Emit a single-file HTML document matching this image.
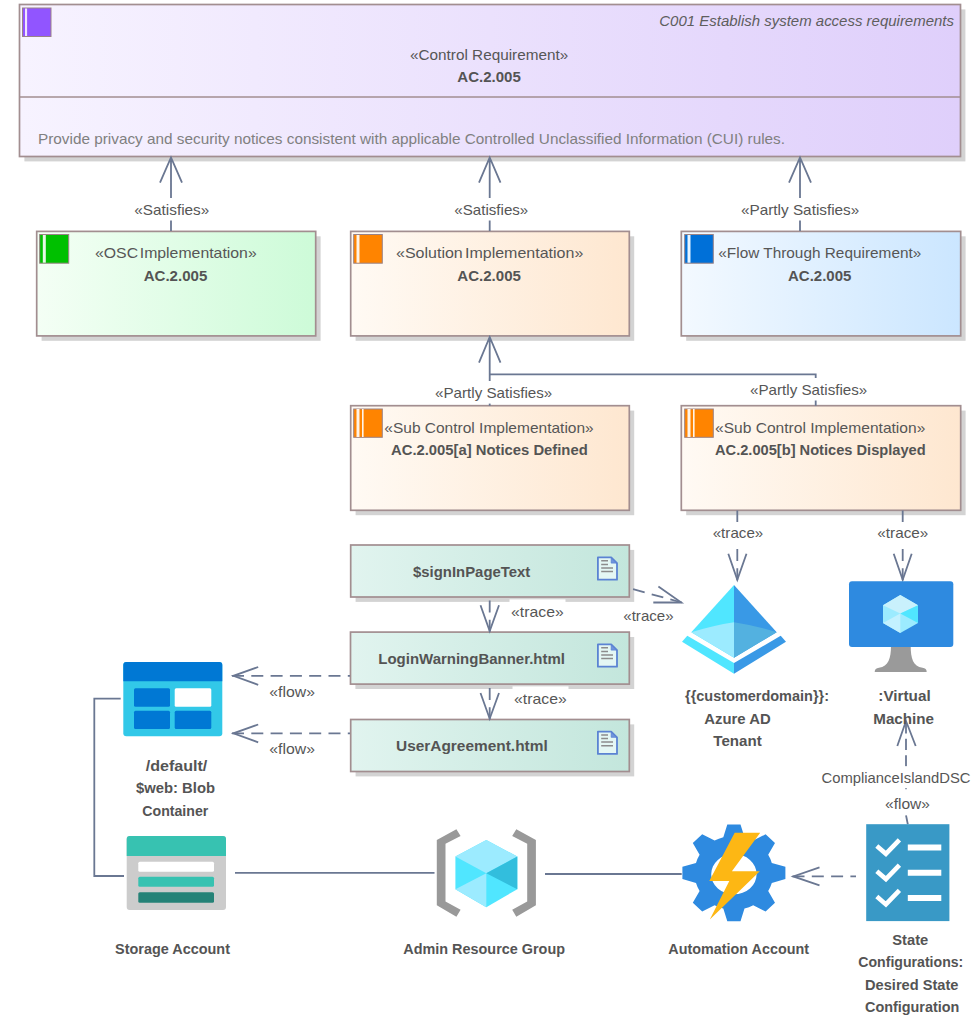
<!DOCTYPE html>
<html lang="en">
<head>
<meta charset="utf-8">
<title>AC.2.005 Control Requirement Diagram</title>
<style>
html,body{margin:0;padding:0;background:#fff;}
body{width:975px;height:1024px;overflow:hidden;}
svg{display:block;}
text{font-family:"Liberation Sans",sans-serif;font-size:14.4px;fill:#565656;}
.b{font-weight:bold;fill:#545454;}
.lbl{fill:#565656;}
.ln{stroke:#6a7792;stroke-width:1.8;fill:none;}
.dash{stroke-dasharray:12 7.3;}
.box{stroke:#a28e90;stroke-width:1.7;}
.sh{fill:#d3d3d3;}
</style>
</head>
<body>
<svg width="975" height="1024" viewBox="0 0 975 1024">
<defs>
<linearGradient id="gp" x1="0" x2="1" y1="0" y2="0"><stop offset="0" stop-color="#f7f3ff"/><stop offset="1" stop-color="#dfcffb"/></linearGradient>
<linearGradient id="gg" x1="0" x2="1" y1="0" y2="0"><stop offset="0" stop-color="#f4fff5"/><stop offset="1" stop-color="#cdfbd8"/></linearGradient>
<linearGradient id="go" x1="0" x2="1" y1="0" y2="0"><stop offset="0" stop-color="#fffaf4"/><stop offset="1" stop-color="#fee7d0"/></linearGradient>
<linearGradient id="gb" x1="0" x2="1" y1="0" y2="0"><stop offset="0" stop-color="#f3f9ff"/><stop offset="1" stop-color="#cbe6ff"/></linearGradient>
<linearGradient id="gt" x1="0" x2="1" y1="0" y2="0"><stop offset="0" stop-color="#e1f4ef"/><stop offset="1" stop-color="#c3e6dc"/></linearGradient>
<g id="doc">
<path d="M0.9 0.9 H14.2 L20 6.6 V23.2 H0.9 Z" fill="#e4f7f4" stroke="#5b83d3" stroke-width="1.8" stroke-linejoin="round"/>
<path d="M14.2 1.5 V6.6 H19.5 Z" fill="#6f94dc" stroke="#5b83d3" stroke-width="0.8"/>
<path d="M4.2 4.3 H11 M4.2 7.9 H11 M4.2 11.4 H16 M4.2 15 H16" stroke="#8c8c8c" stroke-width="1.5" fill="none"/>
</g>
</defs>
<rect width="975" height="1024" fill="#fff"/>


<!-- ===== boxes ===== -->
<g id="boxes">
<!-- Control Requirement -->
<rect class="sh" x="24.4" y="9.4" width="941.0" height="152.0"/>
<rect class="box" x="19.5" y="4.5" width="941" height="152" fill="url(#gp)"/>
<line class="box" x1="19.5" y1="97" x2="960.5" y2="97"/>
<rect x="22.5" y="8" width="28.5" height="28.5" fill="#9155ff" stroke="#9a8387" stroke-width="1"/>
<rect x="25" y="8.5" width="2.1" height="27.5" fill="#eee4ff"/>
<text x="954" y="26" text-anchor="end" font-style="italic" textLength="294.7" lengthAdjust="spacingAndGlyphs" style="fill:#5e5e5e">C001 Establish system access requirements</text>
<text x="410" y="59.8" textLength="158.3" lengthAdjust="spacingAndGlyphs">«Control Requirement»</text>
<text class="b" x="457.3" y="81.7" textLength="63.5" lengthAdjust="spacingAndGlyphs">AC.2.005</text>
<text x="38" y="143.8" textLength="747" lengthAdjust="spacingAndGlyphs" style="fill:#808080">Provide privacy and security notices consistent with applicable Controlled Unclassified Information (CUI) rules.</text>

<!-- OSC Implementation -->
<rect class="sh" x="41.6" y="236.3" width="279.0" height="104.5"/>
<rect class="box" x="36.7" y="231.4" width="279" height="104.5" fill="url(#gg)"/>
<rect x="39.7" y="234.5" width="29" height="28.7" fill="#00c000" stroke="#9a8387" stroke-width="1"/>
<rect x="42.8" y="235" width="3" height="27.7" fill="#e6f8e6"/>
<text x="95" y="258.2" textLength="161.7" lengthAdjust="spacingAndGlyphs" word-spacing="-2.5">«OSC Implementation»</text>
<text class="b" x="143.7" y="281" textLength="63.6" lengthAdjust="spacingAndGlyphs">AC.2.005</text>

<!-- Solution Implementation -->
<rect class="sh" x="355.6" y="236.3" width="278.6" height="104.5"/>
<rect class="box" x="350.7" y="231.4" width="278.6" height="104.5" fill="url(#go)"/>
<rect x="353.7" y="234.5" width="28.6" height="28.7" fill="#ff8400" stroke="#9a8387" stroke-width="1"/>
<rect x="356.5" y="235" width="3" height="27.7" fill="#fff4e8"/>
<text x="396" y="258.2" textLength="187.3" lengthAdjust="spacingAndGlyphs" word-spacing="-2">«Solution Implementation»</text>
<text class="b" x="457.3" y="281" textLength="63.6" lengthAdjust="spacingAndGlyphs">AC.2.005</text>

<!-- Flow Through Requirement -->
<rect class="sh" x="686.2" y="236.3" width="279.4" height="104.5"/>
<rect class="box" x="681.3" y="231.4" width="279.4" height="104.5" fill="url(#gb)"/>
<rect x="684.7" y="234.5" width="28.6" height="28.7" fill="#0070d8" stroke="#9a8387" stroke-width="1"/>
<rect x="687.5" y="235" width="3" height="27.7" fill="#e8f4ff"/>
<text x="718.3" y="258.2" textLength="203" lengthAdjust="spacingAndGlyphs">«Flow Through Requirement»</text>
<text class="b" x="788" y="281" textLength="63.4" lengthAdjust="spacingAndGlyphs">AC.2.005</text>

<!-- Sub Control a -->
<rect class="sh" x="355.6" y="410.6" width="278.6" height="104.6"/>
<rect class="box" x="350.7" y="405.7" width="278.6" height="104.6" fill="url(#go)"/>
<rect x="353.7" y="409" width="28.6" height="28.3" fill="#ff8400" stroke="#9a8387" stroke-width="1"/>
<rect x="356.5" y="409" width="3" height="28" fill="#fff4e8"/>
<rect x="362.0" y="409" width="1.6" height="28" fill="#fff4e8"/>
<text x="384.3" y="433.3" textLength="209.4" lengthAdjust="spacingAndGlyphs">«Sub Control Implementation»</text>
<text class="b" x="391" y="455.3" textLength="196.7" lengthAdjust="spacingAndGlyphs">AC.2.005[a] Notices Defined</text>

<!-- Sub Control b -->
<rect class="sh" x="686.2" y="410.6" width="279.4" height="104.6"/>
<rect class="box" x="681.3" y="405.7" width="279.4" height="104.6" fill="url(#go)"/>
<rect x="684.7" y="409" width="28.6" height="28.3" fill="#ff8400" stroke="#9a8387" stroke-width="1"/>
<rect x="687.5" y="409" width="3" height="28" fill="#fff4e8"/>
<rect x="693.0" y="409" width="1.6" height="28" fill="#fff4e8"/>
<text x="715" y="433.3" textLength="210.3" lengthAdjust="spacingAndGlyphs">«Sub Control Implementation»</text>
<text class="b" x="715" y="455.3" textLength="210.7" lengthAdjust="spacingAndGlyphs">AC.2.005[b] Notices Displayed</text>

<!-- Artifacts -->
<rect class="sh" x="355.6" y="549.9" width="278.6" height="52.0"/>
<rect class="box" x="350.7" y="545" width="278.6" height="52" fill="url(#gt)"/>
<text class="b" x="413" y="577" textLength="117.3" lengthAdjust="spacingAndGlyphs">$signInPageText</text>
<use href="#doc" x="597" y="556.5"/>

<rect class="sh" x="355.4" y="637.0" width="278.8" height="52.0"/>
<rect class="box" x="350.5" y="632.1" width="278.8" height="52" fill="url(#gt)"/>
<text class="b" x="378.3" y="664.3" textLength="186.7" lengthAdjust="spacingAndGlyphs">LoginWarningBanner.html</text>
<use href="#doc" x="597" y="643.5"/>

<rect class="sh" x="355.6" y="724.4" width="278.6" height="52.0"/>
<rect class="box" x="350.7" y="719.5" width="278.6" height="52" fill="url(#gt)"/>
<text class="b" x="396" y="751.1" textLength="151.7" lengthAdjust="spacingAndGlyphs">UserAgreement.html</text>
<use href="#doc" x="597" y="730.7"/>
</g>

<!-- ===== connectors ===== -->
<g id="connectors">
<!-- satisfies arrows -->
<path class="ln" d="M171 157.5 V231 M160 182.7 L171 157.5 L182 182.7"/>
<path class="ln" d="M489.7 157.5 V231 M479 182.7 L489.7 157.5 L500.5 182.7"/>
<path class="ln" d="M800 157.5 V231 M789 182.7 L800 157.5 L811 182.7"/>
<!-- partly satisfies (sub controls) -->
<path class="ln" d="M489.7 337 V405.7 M479 362.7 L489.7 337 L500.5 362.7"/>
<path class="ln" d="M489.7 374.3 H815.7 V405.7"/>
<!-- trace sub b -> AD / VM -->
<path class="ln dash" d="M737.3 580.3 V510.5"/>
<path class="ln" d="M728.3 553.7 L737.3 579.8 L746.5 553.7"/>
<path class="ln dash" d="M902.7 580.3 V510.5"/>
<path class="ln" d="M893.7 553.7 L902.7 579.8 L911.7 553.7"/>
<!-- trace between artifacts -->
<path class="ln dash" d="M489.7 631.7 V598"/>
<path class="ln" d="M480.5 605.2 L489.7 631 L499 605.2"/>
<path class="ln dash" d="M489.7 719.3 V685"/>
<path class="ln" d="M480.5 693 L489.7 718.7 L499 693"/>
<!-- signIn -> AD -->
<path class="ln dash" d="M681.9 602.5 L630 588.4"/>
<path class="ln" d="M658.4 586.6 L681.3 602.5 L653.3 602.5"/>
<!-- flow to blob -->
<path class="ln dash" d="M232 675.8 H350"/>
<path class="ln" d="M258.2 667 L233.4 675.8 L258.2 684.8"/>
<path class="ln dash" d="M232 733.3 H350"/>
<path class="ln" d="M258.2 724.5 L233.4 733.3 L258.2 742.3"/>
<!-- blob - storage -->
<path class="ln" d="M120.7 698.6 H94.3 V876 H124"/>
<!-- storage - RG - automation -->
<path class="ln" d="M235 872.8 H434.5"/>
<path class="ln" d="M545 874 H681.7"/>
<!-- state -> automation -->
<path class="ln dash" d="M792.5 876.4 H856"/>
<path class="ln" d="M819.5 867.4 L793.3 876.4 L819.5 885.4"/>
<!-- state -> VM -->
<path class="ln" stroke-dasharray="11.4 5.1" stroke-dashoffset="-1.9" d="M906 720.3 V815.3"/>
<path class="ln" d="M906 815.3 L907.8 824.2"/>
<path class="ln" d="M897.3 746 L906 721 L915.7 746"/>
</g>

<!-- ===== icons ===== -->
<g id="icons">
<!-- Azure AD -->
<polygon points="734,585 691.3,632.3 734,657.7" fill="#50e6ff"/>
<polygon points="734,585 776.7,632.3 734,657.7" fill="#3999e6"/>
<path d="M691.3 632.3 Q713 625.5 734 622.3 V657.7 Z" fill="#9cebff"/>
<path d="M776.7 632.3 Q755 625.5 734 622.3 V657.7 Z" fill="#53b1e0"/>
<polygon points="687.3,635.7 682,641.7 734,673.7 734,663" fill="#50e6ff"/>
<polygon points="780.7,635.7 786,641.7 734,673.7 734,663" fill="#3999e6"/>
<!-- Virtual Machine -->
<path d="M891 646 H910.7 C910.7 658 913 666.5 922.5 667.8 Q926.7 668.3 926.7 672 H874.7 Q874.7 668.3 879 667.8 C888.5 666.5 891 658 891 646 Z" fill="#9a9a9a"/>
<rect x="849" y="581.3" width="104.3" height="65.7" rx="3" fill="#2e8ae0"/>
<polygon points="900.3,595 918,605.3 918,623 900.3,633 883,623 883,605.3" fill="#9cebff"/>
<polygon points="900.3,595 918,605.3 900.3,613.6 883,605.3" fill="#c9f1fc"/>
<polygon points="883,623 900.3,613.6 900.3,633" fill="#c3f1ff"/>
<polygon points="918,605.3 918,623 900.3,613.6" fill="#50e6ff"/>
<!-- Blob container -->
<rect x="123.3" y="662" width="99" height="74.2" rx="3" fill="#32c8e8"/>
<path d="M123.3 681.3 V665 Q123.3 662 126.3 662 H219.3 Q222.3 662 222.3 665 V681.3 Z" fill="#0078d4"/>
<rect x="134" y="688.3" width="36" height="18.4" rx="1.5" fill="#0078d4"/>
<rect x="174.7" y="688.3" width="36.6" height="18.4" rx="1.5" fill="#fff"/>
<rect x="134" y="710.7" width="36" height="18.4" rx="1.5" fill="#0078d4"/>
<rect x="174.7" y="710.7" width="36.6" height="18.4" rx="1.5" fill="#0078d4"/>
<!-- Storage account -->
<rect x="126.7" y="836" width="99.3" height="74" rx="3" fill="#cccccc"/>
<path d="M126.7 856 V839 Q126.7 836 129.7 836 H223 Q226 836 226 839 V856 Z" fill="#37c2b1"/>
<rect x="138.3" y="861.7" width="75.7" height="10" rx="1.5" fill="#fff"/>
<rect x="138.3" y="876.7" width="75.7" height="10" rx="1.5" fill="#37c2b1"/>
<rect x="138.3" y="892.3" width="75.7" height="10.4" rx="1.5" fill="#258277"/>
<!-- Resource group -->
<polygon points="436.8,839.9 456.4,829.2 460.6,836 445.5,843.7 445.5,901.4 460.6,909.7 456.4,916.8 436.8,905.3" fill="#999999"/>
<polygon points="535.9,839.9 516.3,829.2 512.2,836 527.2,843.7 527.2,901.4 512.2,909.7 516.3,916.8 535.9,905.3" fill="#999999"/>
<polygon points="486.3,840.1 517.3,856.5 517.3,889.2 486.3,907.2 455.4,889.2 455.4,856.5" fill="#50e6ff"/>
<polygon points="486.3,840.1 517.3,856.5 486.3,873.2 455.4,856.5" fill="#9cebff"/>
<polygon points="455.4,889.2 486.3,873.2 486.3,907.2" fill="#9cebff"/>
<polygon points="517.3,856.5 517.3,889.2 486.3,873.2" fill="#32bedd"/>
<!-- Automation account -->
<path fill-rule="evenodd" fill="#2e8ae0" d="M723.3 837.3 L727.3 824.5 L740.5 824.5 L744.5 837.3 A39.4 37.0 0 0 1 753.2 840.6 L765.6 834.3 L775.0 843.1 L768.2 854.8 A39.4 37.0 0 0 1 771.8 862.9 L785.4 866.7 L785.4 879.1 L771.8 882.9 A39.4 37.0 0 0 1 768.2 891.0 L775.0 902.7 L765.6 911.5 L753.2 905.2 A39.4 37.0 0 0 1 744.5 908.5 L740.5 921.3 L727.3 921.3 L723.3 908.5 A39.4 37.0 0 0 1 714.6 905.2 L702.2 911.5 L692.8 902.7 L699.6 891.0 A39.4 37.0 0 0 1 696.0 882.9 L682.4 879.1 L682.4 866.7 L696.0 862.9 A39.4 37.0 0 0 1 699.6 854.8 L692.8 843.1 L702.2 834.3 L714.6 840.6 A39.4 37.0 0 0 1 723.3 837.3 Z M711.2 874.2 A22.7 20.1 0 1 0 756.6 874.2 A22.7 20.1 0 1 0 711.2 874.2 Z"/>
<polygon points="734.7,832.7 760.2,832.7 731.9,871.2 759.8,871.2 709.8,919.6 729.3,881 709.3,881" fill="#fdb714"/>
<!-- State configuration -->
<rect x="866.2" y="824.2" width="83.2" height="96.9" fill="#3999c6"/>
<g stroke="#fff" fill="none">
<path d="M907.8 847.4 H941.3 M907.8 872.8 H941.3 M907.8 898 H941.3" stroke-width="6"/>
<path d="M876.8 846 L885.9 853.8 L899.4 839.8 M876.8 871.3 L885.9 879.1 L899.4 865.1 M876.8 896.6 L885.9 904.4 L899.4 890.4" stroke-width="4.6"/>
</g>
</g>

<!-- ===== labels ===== -->
<g id="labels" class="lbl">
<rect x="132" y="198" width="80" height="22.5" fill="#fff"/>
<text x="134.3" y="214.7" textLength="75" lengthAdjust="spacingAndGlyphs">«Satisfies»</text>
<rect x="452" y="198" width="79" height="22.5" fill="#fff"/>
<text x="454.3" y="214.7" textLength="74" lengthAdjust="spacingAndGlyphs">«Satisfies»</text>
<rect x="739" y="198" width="123" height="22.5" fill="#fff"/>
<text x="741" y="214.7" textLength="118.3" lengthAdjust="spacingAndGlyphs">«Partly Satisfies»</text>
<rect x="433" y="381" width="122" height="22.6" fill="#fff"/>
<text x="435" y="398.3" textLength="117.3" lengthAdjust="spacingAndGlyphs">«Partly Satisfies»</text>
<rect x="748" y="378" width="122" height="22.5" fill="#fff"/>
<text x="750" y="395" textLength="117.3" lengthAdjust="spacingAndGlyphs">«Partly Satisfies»</text>
<rect x="710" y="522" width="56" height="21" fill="#fff"/>
<text x="712.7" y="538.4" textLength="50.6" lengthAdjust="spacingAndGlyphs">«trace»</text>
<rect x="875" y="522" width="56" height="21" fill="#fff"/>
<text x="877.3" y="538.4" textLength="51" lengthAdjust="spacingAndGlyphs">«trace»</text>
<rect x="509.5" y="599.4" width="56" height="22" fill="#fff"/>
<text x="511" y="617" textLength="52.7" lengthAdjust="spacingAndGlyphs">«trace»</text>
<rect x="512.5" y="686.4" width="56" height="22" fill="#fff"/>
<text x="514" y="703.7" textLength="52.7" lengthAdjust="spacingAndGlyphs">«trace»</text>
<text x="623.3" y="621.2" textLength="50.3" lengthAdjust="spacingAndGlyphs">«trace»</text>
<text x="269.3" y="696.7" textLength="45.7" lengthAdjust="spacingAndGlyphs">«flow»</text>
<text x="269.3" y="754" textLength="45.7" lengthAdjust="spacingAndGlyphs">«flow»</text>
<rect x="820" y="766.3" width="152" height="21.2" fill="#fff"/>
<text x="821.5" y="782.8" textLength="149" lengthAdjust="spacingAndGlyphs">ComplianceIslandDSC</text>
<rect x="883" y="789.2" width="49" height="26.1" fill="#fff"/>
<text x="885" y="808.8" textLength="45" lengthAdjust="spacingAndGlyphs">«flow»</text>

<g class="b">
<text class="b" x="685" y="701" textLength="144" lengthAdjust="spacingAndGlyphs">{{customerdomain}}:</text>
<text class="b" x="704.3" y="723.7" textLength="66.4" lengthAdjust="spacingAndGlyphs">Azure AD</text>
<text class="b" x="713.3" y="746" textLength="48.4" lengthAdjust="spacingAndGlyphs">Tenant</text>
<text class="b" x="878.3" y="701" textLength="52.4" lengthAdjust="spacingAndGlyphs">:Virtual</text>
<text class="b" x="873.3" y="723.7" textLength="60.7" lengthAdjust="spacingAndGlyphs">Machine</text>
<text class="b" x="145.7" y="770.5" textLength="61.6" lengthAdjust="spacingAndGlyphs">/default/</text>
<text class="b" x="136" y="793.3" textLength="79" lengthAdjust="spacingAndGlyphs">$web: Blob</text>
<text class="b" x="142.3" y="815.7" textLength="66" lengthAdjust="spacingAndGlyphs">Container</text>
<text class="b" x="115" y="953.9" textLength="115" lengthAdjust="spacingAndGlyphs">Storage Account</text>
<text class="b" x="403.3" y="953.9" textLength="161.7" lengthAdjust="spacingAndGlyphs">Admin Resource Group</text>
<text class="b" x="668.3" y="953.9" textLength="140.7" lengthAdjust="spacingAndGlyphs">Automation Account</text>
<text class="b" x="892.3" y="944.5" textLength="36" lengthAdjust="spacingAndGlyphs">State</text>
<text class="b" x="858.3" y="967.3" textLength="105" lengthAdjust="spacingAndGlyphs">Configurations:</text>
<text class="b" x="865" y="989.6" textLength="93.5" lengthAdjust="spacingAndGlyphs">Desired State</text>
<text class="b" x="865" y="1012.1" textLength="94.3" lengthAdjust="spacingAndGlyphs">Configuration</text>
</g>
</g>
</svg>
</body>
</html>
